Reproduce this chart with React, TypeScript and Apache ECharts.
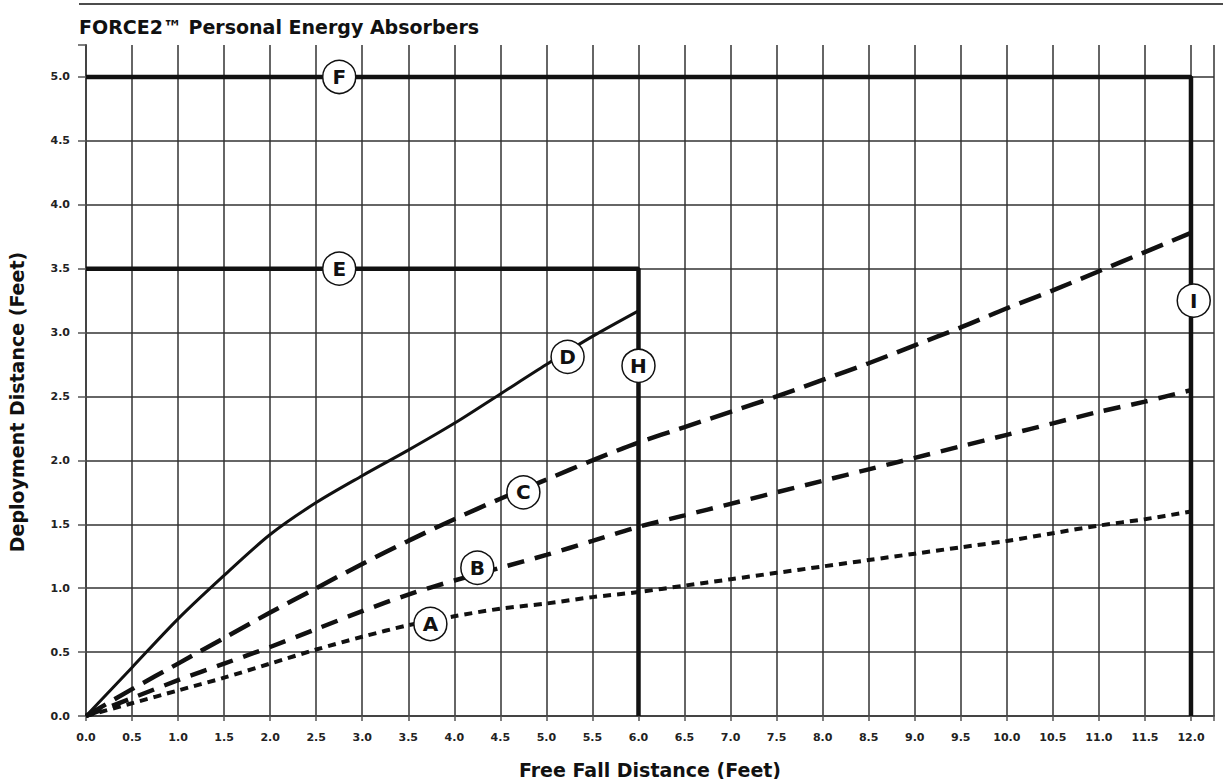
import React, { useEffect, useRef } from "react";
import * as echarts from "echarts";

const TITLE = "FORCE2™ Personal Energy Absorbers";
const X_TITLE = "Free Fall Distance (Feet)";
const Y_TITLE = "Deployment Distance (Feet)";

const xABC = [0, 0.5, 1.0, 1.5, 2.0, 2.5, 3.0, 3.5, 4.0, 4.5, 5.0, 5.5, 6.0, 6.5, 7.0, 7.5, 8.0, 8.5, 9.0, 9.5, 10.0, 10.5, 11.0, 11.5, 12.0];
const seriesA = [0, 0.1, 0.2, 0.3, 0.41, 0.52, 0.62, 0.71, 0.78, 0.84, 0.88, 0.93, 0.97, 1.02, 1.07, 1.12, 1.17, 1.22, 1.27, 1.32, 1.37, 1.43, 1.49, 1.54, 1.6];
const seriesB = [0, 0.14, 0.28, 0.41, 0.54, 0.68, 0.82, 0.95, 1.06, 1.16, 1.26, 1.37, 1.48, 1.57, 1.66, 1.75, 1.84, 1.93, 2.02, 2.11, 2.2, 2.29, 2.38, 2.46, 2.55];
const seriesC = [0, 0.21, 0.41, 0.61, 0.81, 1.0, 1.19, 1.37, 1.54, 1.7, 1.85, 2.0, 2.14, 2.26, 2.38, 2.5, 2.63, 2.76, 2.9, 3.04, 3.19, 3.33, 3.48, 3.63, 3.78];
const xD = [0, 0.5, 1.0, 1.5, 2.0, 2.5, 3.0, 3.5, 4.0, 4.5, 5.0, 5.5, 6.0];
const seriesD = [0, 0.38, 0.76, 1.1, 1.42, 1.67, 1.88, 2.08, 2.29, 2.52, 2.75, 2.97, 3.17];

const limitE = [[0, 3.5], [6, 3.5], [6, 0]];
const limitF = [[0, 5.0], [12, 5.0], [12, 0]];

const markerNames = ["A", "B", "C", "D", "E", "F", "H", "I"];
const markerX = [3.74, 4.25, 4.75, 5.23, 2.75, 2.75, 6.0, 12.03];
const markerY = [0.72, 1.16, 1.75, 2.81, 3.5, 5.0, 2.74, 3.25];

const zip = (xs: number[], ys: number[]) => xs.map((x, i) => [x, ys[i]]);

const fmt = (v: number) =>
  Math.abs(v * 2 - Math.round(v * 2)) < 1e-6 ? v.toFixed(1) : "";

export default function App() {
  const ref = useRef<HTMLDivElement>(null);
  useEffect(() => {
    if (!ref.current) return;
    const chart = echarts.init(ref.current, null, { renderer: "svg" });
    const ink = "#111";
    const axisLabel = {
      fontFamily: "DejaVu Sans",
      fontWeight: "bold" as const,
      fontSize: 11,
      color: "#222",
      formatter: fmt,
    };
    const titleFont = "bold 19px 'DejaVu Sans'";
    chart.setOption({
      animation: false,
      backgroundColor: "#fff",
      graphic: [
        { type: "line", shape: { x1: 79, y1: 4, x2: 1223, y2: 4 }, style: { stroke: "#111", lineWidth: 1.5 } },
        {
          type: "text",
          x: 79,
          y: 27,
          style: { text: TITLE, font: titleFont, fill: "#111", verticalAlign: "middle" },
        },
        {
          type: "text",
          x: 17,
          y: 402,
          rotation: Math.PI / 2,
          style: { text: Y_TITLE, font: titleFont, fill: "#111", align: "center", verticalAlign: "middle" },
        },
      ],
      grid: { left: 86, right: 9, top: 45, bottom: 63, outerBoundsMode: "none", containLabel: false },
      xAxis: {
        type: "value",
        min: 0,
        max: 12.25,
        interval: 0.5,
        name: X_TITLE,
        nameLocation: "middle",
        nameGap: 44,
        nameTextStyle: { fontFamily: "DejaVu Sans", fontWeight: "bold", fontSize: 19, color: "#111" },
        axisLine: { show: true, lineStyle: { color: "#444", width: 2 } },
        axisTick: { show: true, length: 5, lineStyle: { color: "#555", width: 1.5 } },
        axisLabel: { ...axisLabel, margin: 16 },
        splitLine: { show: true, lineStyle: { color: "#333", width: 1.5 } },
      },
      yAxis: {
        type: "value",
        min: 0,
        max: 5.25,
        interval: 0.5,
        axisLine: { show: true, lineStyle: { color: "#444", width: 2 } },
        axisTick: { show: true, length: 8, lineStyle: { color: "#555", width: 1.5 } },
        axisLabel: { ...axisLabel, margin: 16 },
        splitLine: { show: true, showMaxLine: false, lineStyle: { color: "#333", width: 1.5 } },
      },
      series: [
        {
          type: "line",
          data: zip(xABC, seriesA),
          showSymbol: false,
          smooth: 0.3,
          lineStyle: { color: ink, width: 4, type: [8, 6], cap: "butt" },
          z: 3,
        },
        {
          type: "line",
          data: zip(xABC, seriesB),
          showSymbol: false,
          smooth: 0.3,
          lineStyle: { color: ink, width: 4.5, type: [17, 11], cap: "butt" },
          z: 3,
        },
        {
          type: "line",
          data: zip(xABC, seriesC),
          showSymbol: false,
          smooth: 0.3,
          lineStyle: { color: ink, width: 4.5, type: [23, 10], cap: "butt" },
          z: 3,
        },
        {
          type: "line",
          data: zip(xD, seriesD),
          showSymbol: false,
          smooth: 0.3,
          lineStyle: { color: ink, width: 3 },
          z: 3,
        },
        {
          type: "line",
          data: limitE,
          showSymbol: false,
          lineStyle: { color: ink, width: 4.5 },
          z: 4,
        },
        {
          type: "line",
          data: limitF,
          showSymbol: false,
          lineStyle: { color: ink, width: 4.5 },
          z: 4,
        },
        {
          type: "scatter",
          data: markerNames.map((n, i) => ({ name: n, value: [markerX[i], markerY[i]] })),
          symbol: "circle",
          symbolSize: 33,
          itemStyle: { color: "#fff", borderColor: ink, borderWidth: 1.5, opacity: 1 },
          emphasis: { disabled: true },
          label: {
            show: true,
            position: "inside",
            formatter: (p: any) => p.name,
            fontFamily: "DejaVu Sans",
            fontWeight: "bold",
            fontSize: 20,
            color: ink,
          },
          z: 10,
        },
      ],
    });
    return () => chart.dispose();
  }, []);
  return (
    <div
      ref={ref}
      style={{ position: "fixed", left: 0, top: 0, width: 1223, height: 779 }}
    />
  );
}
